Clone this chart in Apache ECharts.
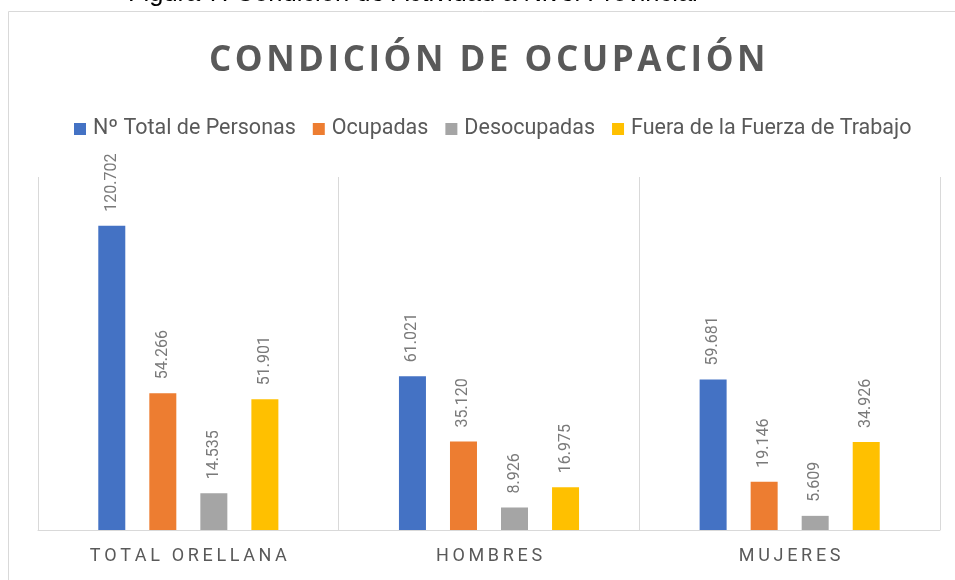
<!DOCTYPE html>
<html>
<head>
    <meta charset="utf-8">
    <script src="https://cdn.jsdelivr.net/npm/echarts@6/dist/echarts.min.js"></script>
    <title>Condición de Ocupación</title>
</head>
<style>
    html, body {
        margin: 0;
        padding: 0;
        width: 955px;
        height: 580px;
        overflow: hidden;
        background: #fff;
    }
    #chart {
        width: 955px;
        height: 580px;
    }
</style>
<body>
<div id="chart"></div>
<script type="text/javascript">
    var categories = ['TOTAL ORELLANA', 'HOMBRES', 'MUJERES'];
    var seriesNames = ['Nº Total de Personas', 'Ocupadas', 'Desocupadas', 'Fuera de la Fuerza de Trabajo'];
    var totalPersonas = [120702, 61021, 59681];
    var ocupadas = [54266, 35120, 19146];
    var desocupadas = [14535, 8926, 5609];
    var fueraFuerza = [51901, 16975, 34926];
    var colors = ['#4472C4', '#ED7D31', '#A5A5A5', '#FFC000'];

    // 120702 -> "120.702"
    function fmt(v) {
        return String(v).replace(/\B(?=(\d{3})+(?!\d))/g, '.');
    }
    function spaced(s, sep) {
        return s.split('').join(sep || '\u2009');
    }

    var allData = [totalPersonas, ocupadas, desocupadas, fueraFuerza];
    var series = allData.map(function (d, i) {
        return {
            name: seriesNames[i],
            type: 'bar',
            data: d,
            barWidth: 27,
            barGap: '89%',
            itemStyle: {color: colors[i]},
            label: {
                show: true,
                position: 'top',
                rotate: 90,
                align: 'left',
                verticalAlign: 'middle',
                distance: 14,
                color: '#7a7a7a',
                fontSize: 16,
                fontFamily: 'Roboto',
                formatter: function (p) { return fmt(p.value); }
            }
        };
    });

    var myChart = echarts.init(document.getElementById('chart'));
    var option = {
        animation: false,
        color: colors,
        graphic: [
            {
                type: 'rect',
                shape: {x: 8.5, y: 11.5, width: 980, height: 620},
                style: {fill: 'none', stroke: '#d9d9d9', lineWidth: 1},
                silent: true
            },
            {
                type: 'text',
                left: 128,
                top: -19,
                style: {
                    text: 'Figura 7: Condición de Actividad a Nivel Provincial',
                    font: '25.5px "Liberation Sans", Arial, sans-serif',
                    fill: '#000'
                }
            }
        ],
        title: {
            text: spaced('CONDICIÓN DE OCUPACIÓN', '\u200A'),
            left: 204,
            top: 39,
            textStyle: {
                fontFamily: 'Open Sans',
                fontWeight: 'bold',
                fontSize: 35,
                color: '#595959'
            }
        },
        legend: {
            top: 113,
            left: 69,
            itemWidth: 12,
            itemHeight: 12,
            itemGap: 17,
            icon: 'rect',
            textStyle: {
                fontFamily: 'Roboto',
                fontSize: 21.5,
                color: '#595959',
                padding: [0, 0, 0, 2]
            },
            data: seriesNames
        },
        grid: {
            left: 38,
            right: 15,
            top: 177,
            bottom: 50,
            containLabel: false
        },
        xAxis: {
            type: 'category',
            data: categories,
            axisTick: {show: false},
            axisLine: {lineStyle: {color: '#d9d9d9', width: 1}},
            splitLine: {show: true, lineStyle: {color: '#d9d9d9', width: 1}},
            axisLabel: {
                margin: 17,
                fontFamily: 'Roboto',
                fontSize: 18,
                color: '#595959',
                formatter: function (v) { return spaced(v); }
            }
        },
        yAxis: {
            type: 'value',
            min: 0,
            max: 140000,
            show: false,
            splitLine: {show: false}
        },
        series: series
    };
    myChart.setOption(option);
</script>
</body>
</html>
